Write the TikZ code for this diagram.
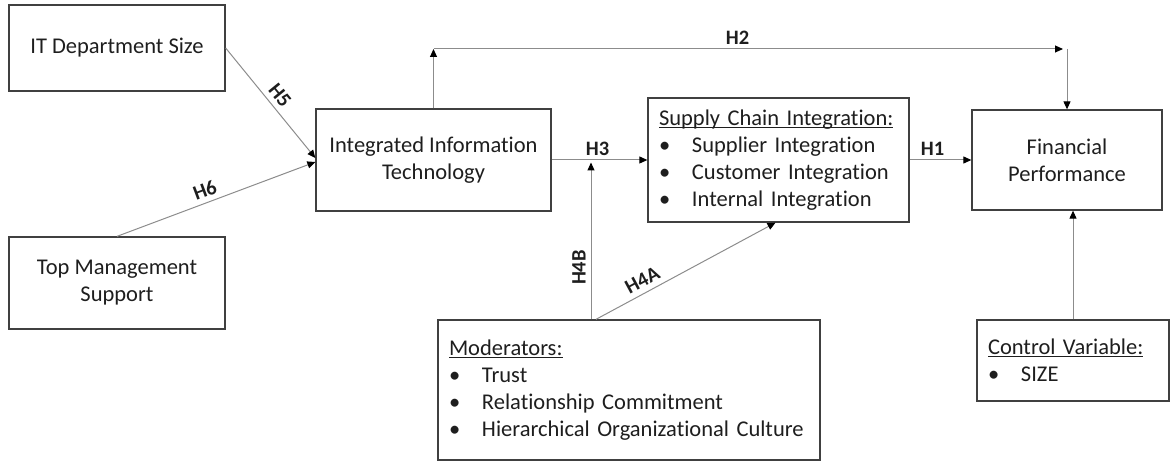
\documentclass[tikz,border=0pt]{standalone}
\usepackage{fontspec}
\setmainfont{Carlito}[Ligatures=NoCommon]
\usetikzlibrary{arrows.meta,calc}
\definecolor{boxline}{HTML}{404040}
\definecolor{linkline}{HTML}{8C8C8C}
\definecolor{ink}{HTML}{1E1E1E}
% heading underlined close to the baseline
\newcommand{\ulhead}[1]{\setbox0=\hbox{#1}\rlap{\rule[-2.6pt]{\wd0}{1.1pt}}\box0}
% bulleted line with a hanging indent
\newcommand{\bulletline}[1]{\makebox[33pt][l]{\textbullet}#1}

\begin{document}
\begin{tikzpicture}[x=1pt,y=-1pt,
  every node/.style={text=ink},
  box/.style={draw=boxline,line width=1.3pt,rectangle,inner sep=0pt,
    font=\fontsize{22.5}{27}\selectfont,align=center},
  listbox/.style={box,align=left,inner xsep=11pt},
  link/.style={draw=linkline,line width=1pt,
    -{Triangle[length=8pt,width=7pt,color=black]}},
  hyp/.style={font=\fontsize{20.5}{24}\selectfont\bfseries,inner sep=4pt},
  tilted/.style={hyp,sloped,above,inner sep=5pt}
]
\useasboundingbox (0,0) rectangle (1170,462);

% constructs
\node[box,minimum width=216pt,minimum height=86pt] (itd) at (117,48) {IT Department Size};
\node[box,minimum width=216pt,minimum height=92pt] (tms) at (117,283) {Top Management\\Support};
\node[box,minimum width=235pt,minimum height=102pt] (iit) at (433.5,160) {Integrated Information\\Technology};
\node[listbox,minimum width=261pt,minimum height=124pt,text width=239pt] (sci) at (778.5,160)
  {\ulhead{Supply Chain Integration:}\\
   \bulletline{Supplier Integration}\\
   \bulletline{Customer Integration}\\
   \bulletline{Internal Integration}};
\node[box,minimum width=190pt,minimum height=100pt] (fin) at (1067,160) {Financial\\Performance};
\node[listbox,minimum width=382pt,minimum height=140pt,text width=360pt] (mod) at (629,390)
  {\ulhead{Moderators:}\\
   \bulletline{Trust}\\
   \bulletline{Relationship Commitment}\\
   \bulletline{Hierarchical Organizational Culture}};
\node[listbox,minimum width=192pt,minimum height=81pt,text width=170pt] (ctl) at (1073,360.5)
  {\ulhead{Control Variable:}\\
   \bulletline{SIZE}};

% bend points and free ends
\coordinate (h2up) at (433.5,49);
\coordinate (h2end) at (1063,49);
\coordinate (h2turn) at (1067,49);
\coordinate (h4b) at (591,162.5);
\coordinate (h4a) at ($(mod.north)+(-33,0)$);
\coordinate (h4aend) at ($(sci.south)+(-3,0)$);
\coordinate (h5end) at ($(iit.west)+(0,-2)$);
\coordinate (h6end) at ($(iit.west)+(0,2)$);

% hypotheses
\draw[link] (itd.east) -- node[tilted,pos=0.5]{H5} (h5end);
\draw[link] (tms.north) -- node[tilted,pos=0.465]{H6} (h6end);
\draw[link] (iit.north) -- (h2up);
\draw[link] (h2up) -- node[hyp,above,pos=0.483]{H2} (h2end);
\draw[link] (h2turn) -- (fin.north);
\draw[link] (iit.east) -- node[hyp,above,pos=0.48]{H3} (sci.west);
\draw[link] (sci.east) -- node[hyp,above,pos=0.37]{H1} (fin.west);
\draw[link] (mod.north -| h4b) -- node[tilted,pos=0.33]{H4B} (h4b);
\draw[link] (h4a) -- node[tilted,pos=0.29]{H4A} (h4aend);
\draw[link] (ctl.north) -- (ctl.north |- fin.south);
\end{tikzpicture}
\end{document}
